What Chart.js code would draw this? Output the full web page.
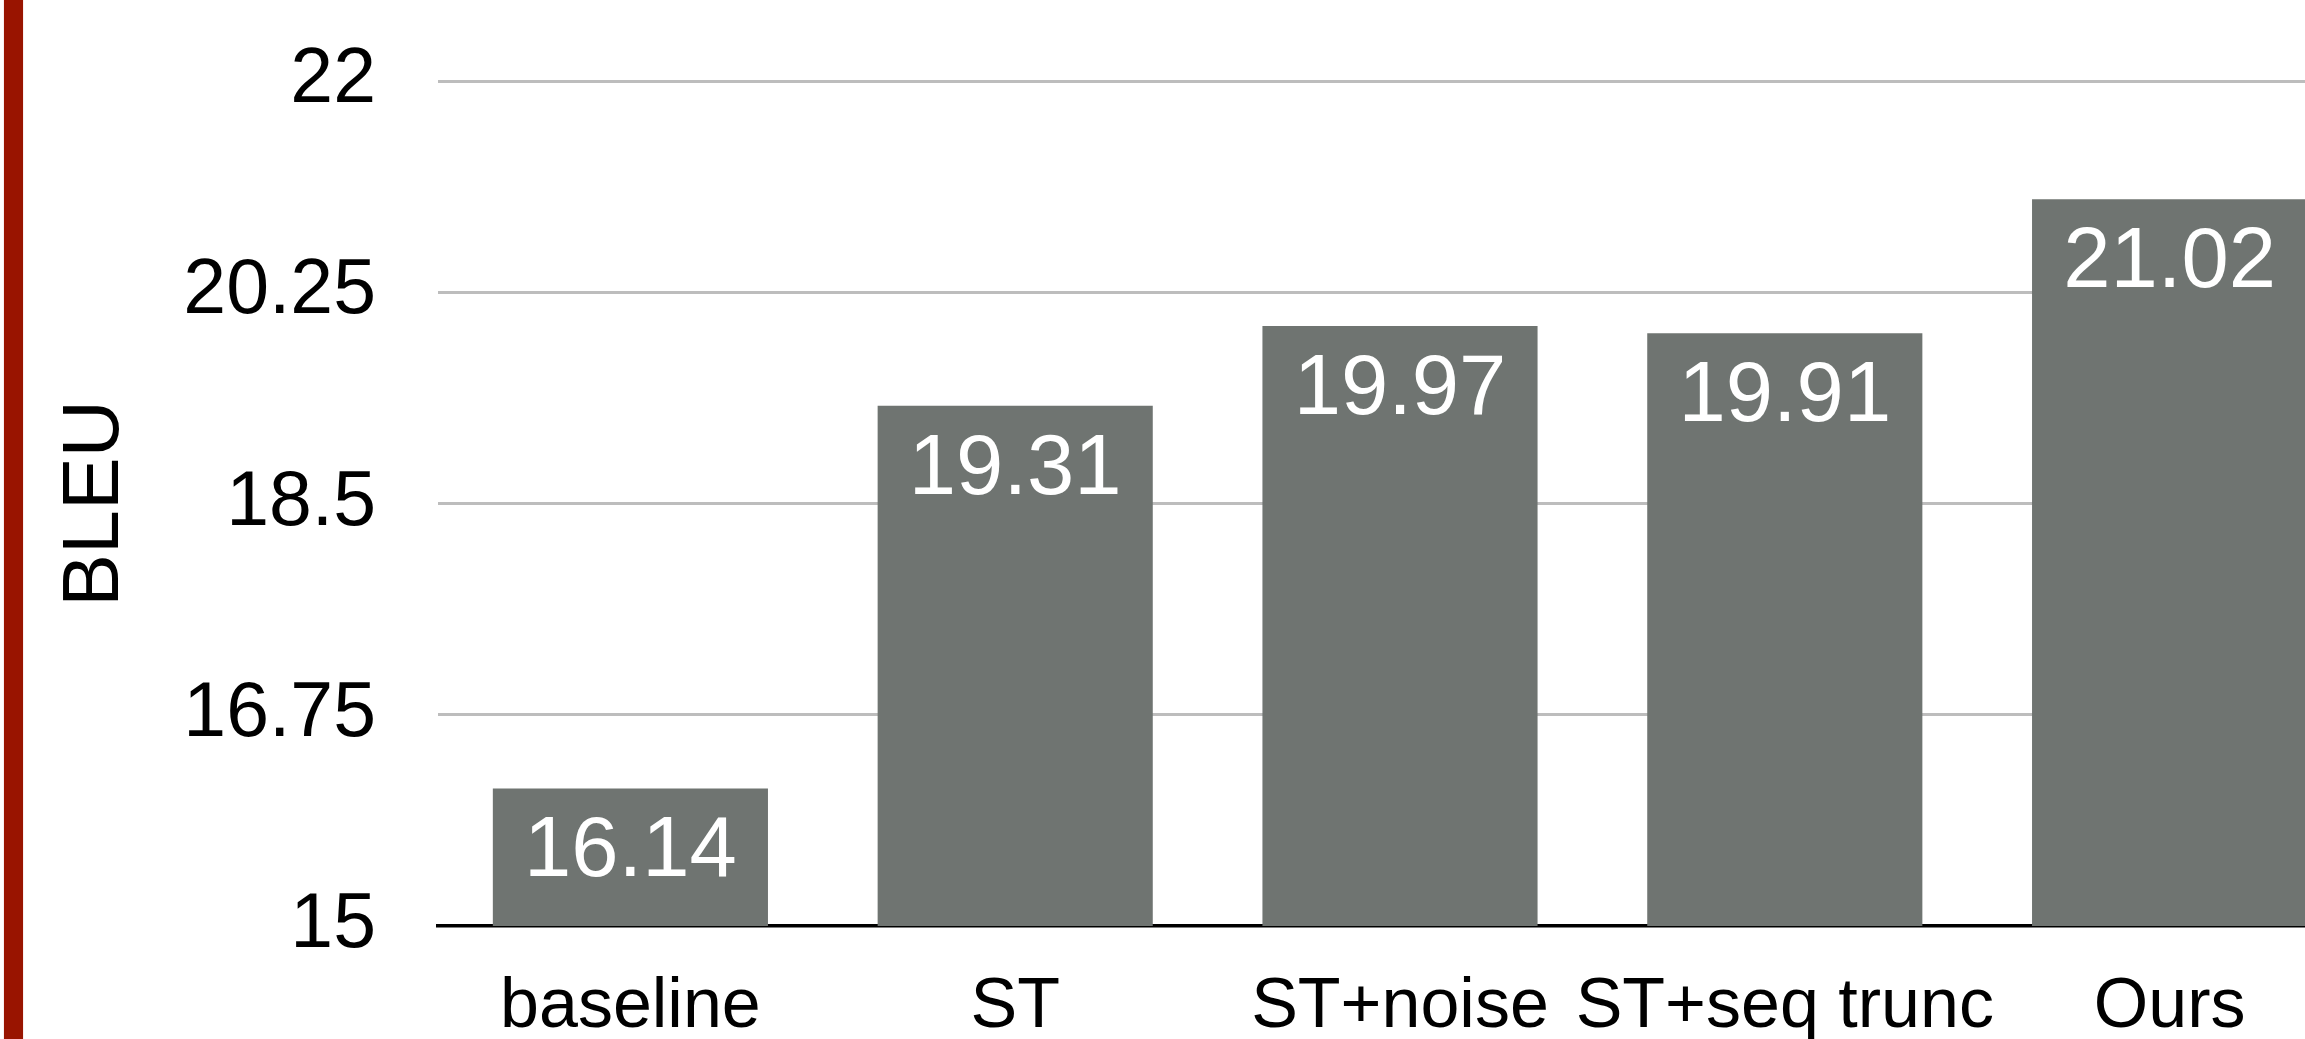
<!DOCTYPE html>
<html>
<head>
<meta charset="utf-8">
<script src="https://cdn.jsdelivr.net/npm/chart.js@4.4.1/dist/chart.umd.min.js"></script>
<style>
  html, body { margin: 0; padding: 0; background: #ffffff; overflow: hidden; }
  #wrap { position: relative; width: 2305px; height: 1039px; overflow: hidden; background: #fff; }
  #redbar { position: absolute; left: 4px; top: 0; width: 19px; height: 1039px; background: #991400; box-shadow: 0 0 1px #d99; }
  #c { position: absolute; left: 0; top: 0; }
</style>
</head>
<body>
<div id="wrap">
  <div id="redbar"></div>
  <canvas id="c" width="2362" height="1039"></canvas>
</div>
<script>
const categories = ['baseline', 'ST', 'ST+noise', 'ST+seq trunc', 'Ours'];
const bleuValues = [16.14, 19.31, 19.97, 19.91, 21.02];
const yTicks = [15, 16.75, 18.5, 20.25, 22];
const yTickLabels = ['15', '16.75', '18.5', '20.25', '22'];
const yTitle = 'BLEU';

const FONT = "'Liberation Sans', Arial, Helvetica, sans-serif";

const valueLabels = {
  id: 'valueLabels',
  afterDatasetsDraw(chart) {
    const ctx = chart.ctx;
    const meta = chart.getDatasetMeta(0);
    ctx.save();
    ctx.fillStyle = '#ffffff';
    ctx.font = '85px ' + FONT;
    ctx.textAlign = 'center';
    ctx.textBaseline = 'alphabetic';
    meta.data.forEach((bar, i) => {
      const v = chart.data.datasets[0].data[i];
      ctx.fillText(v.toFixed(2), bar.x, bar.y + 88);
    });
    ctx.restore();
  }
};

new Chart(document.getElementById('c'), {
  type: 'bar',
  data: {
    labels: categories,
    datasets: [{
      data: bleuValues,
      backgroundColor: '#6f7471',
      borderWidth: 0,
      categoryPercentage: 1.0,
      barPercentage: 0.715
    }]
  },
  options: {
    responsive: false,
    animation: false,
    devicePixelRatio: 1,
    layout: { padding: { top: 81, right: 0, bottom: 0, left: 0 } },
    plugins: { legend: { display: false }, tooltip: { enabled: false } },
    scales: {
      x: {
        z: 1,
        grid: { display: false, drawTicks: false },
        border: { display: true, color: '#000000', width: 3.5 },
        ticks: { color: '#000000', font: { family: FONT, size: 70 }, padding: 40, maxRotation: 0, autoSkip: false },
        afterFit: (scale) => { scale.height = 113; scale.paddingLeft = 0; scale.paddingRight = 0; }
      },
      y: {
        min: 15,
        max: 22,
        afterBuildTicks: (scale) => { scale.ticks = yTicks.map(v => ({ value: v })); },
        grid: {
          color: (ctx) => (ctx.tick && ctx.tick.value === 15 ? 'rgba(0,0,0,0)' : '#bdbdbd'),
          lineWidth: 3,
          drawTicks: false
        },
        border: { display: false },
        ticks: {
          color: '#000000',
          font: { family: FONT, size: 77 },
          padding: 62,
          callback: (value) => {
            const idx = yTicks.indexOf(value);
            return idx >= 0 ? yTickLabels[idx] : '';
          }
        },
        title: {
          display: true,
          text: yTitle,
          color: '#000000',
          font: { family: FONT, size: 79 },
          padding: { top: 49, bottom: 0 }
        },
        afterFit: (scale) => { scale.width = 438; scale.paddingTop = 0; scale.paddingBottom = 0; }
      }
    }
  },
  plugins: [valueLabels]
});
</script>
</body>
</html>
